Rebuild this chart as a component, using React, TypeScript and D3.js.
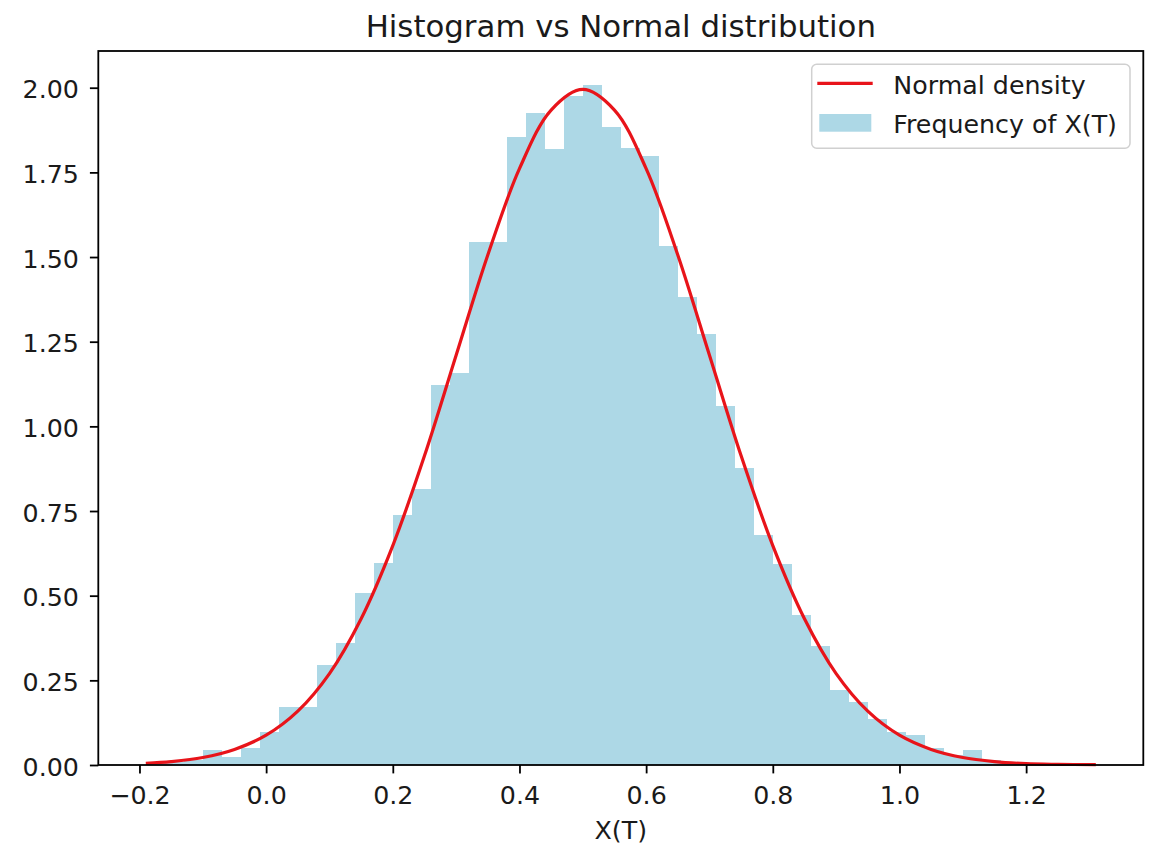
import React, { useEffect, useRef } from "react";
import * as d3 from "d3";

// histogram (density=True), 50 bins
const binStart = -0.19;
const binWidth = 0.03;
const densities = [
  0.007, 0.01, 0.015, 0.044, 0.025, 0.05, 0.098, 0.172, 0.172, 0.295,
  0.36, 0.509, 0.596, 0.739, 0.816, 1.122, 1.159, 1.543, 1.543, 1.854,
  1.926, 1.818, 1.975, 2.008, 1.884, 1.822, 1.798, 1.533, 1.381, 1.273,
  1.061, 0.877, 0.678, 0.595, 0.442, 0.351, 0.221, 0.187, 0.137, 0.098,
  0.088, 0.05, 0.03, 0.044, 0.015, 0.01, 0.005, 0.005, 0.0, 0.003,
];

const curveX = [
  -0.19, -0.15, -0.1, -0.05, 0.0, 0.05, 0.1, 0.15, 0.2, 0.25, 0.3, 0.35, 0.4,
  0.45, 0.5, 0.55, 0.6, 0.65, 0.7, 0.75, 0.8, 0.85, 0.9, 0.95, 1.0, 1.05, 1.1,
  1.15, 1.2, 1.25, 1.31,
];
const curveY = [
  0.005, 0.01, 0.022, 0.046, 0.088, 0.159, 0.27, 0.432, 0.648, 0.913, 1.21,
  1.506, 1.761, 1.934, 1.995, 1.934, 1.761, 1.506, 1.21, 0.913, 0.648, 0.432,
  0.27, 0.159, 0.088, 0.046, 0.022, 0.01, 0.004, 0.002, 0.001,
];

const xTicks = [-0.2, 0.0, 0.2, 0.4, 0.6, 0.8, 1.0, 1.2];
const yTicks = [0, 0.25, 0.5, 0.75, 1.0, 1.25, 1.5, 1.75, 2.0];

const title = "Histogram vs Normal distribution";
const xLabel = "X(T)";
const lineLabel = "Normal density";
const barLabel = "Frequency of X(T)";

const W = 1155;
const H = 848;
const left = 98.3;
const right = 1143.3;
const top = 51;
const bottom = 765;
const font = "'DejaVu Sans', sans-serif";
const fs = "25.3px";
const barColor = "#add8e6";
const lineColor = "#e8141a";

const App = () => {
  const ref = useRef(null);

  useEffect(() => {
    const svg = d3.select(ref.current);
    svg.selectAll("*").remove();

    const binEnd = binStart + binWidth * densities.length;
    const pad = (binEnd - binStart) * 0.05;
    const x = d3
      .scaleLinear()
      .domain([binStart - pad, binEnd + pad])
      .range([left, right]);
    const y = d3
      .scaleLinear()
      .domain([0, d3.max(densities) * 1.05])
      .range([bottom, top]);

    // bars
    svg
      .append("g")
      .selectAll("rect")
      .data(densities)
      .enter()
      .append("rect")
      .attr("x", (d, i) => x(binStart + i * binWidth))
      .attr("width", x(binStart + binWidth) - x(binStart) + 0.4)
      .attr("y", d => y(d))
      .attr("height", d => y(0) - y(d))
      .attr("fill", barColor)
      .attr("shape-rendering", "crispEdges");

    // curve
    const line = d3
      .line()
      .x(d => x(d[0]))
      .y(d => y(d[1]))
      .curve(d3.curveCatmullRom);
    svg
      .append("path")
      .datum(curveX.map((v, i) => [v, curveY[i]]))
      .attr("d", line)
      .attr("fill", "none")
      .attr("stroke", lineColor)
      .attr("stroke-width", 3.2);

    // frame
    svg
      .append("rect")
      .attr("x", left)
      .attr("y", top)
      .attr("width", right - left)
      .attr("height", bottom - top)
      .attr("fill", "none")
      .attr("stroke", "black")
      .attr("stroke-width", 1.8);

    // axes
    const xAxis = svg
      .append("g")
      .attr("transform", `translate(0,${bottom})`)
      .call(
        d3
          .axisBottom(x)
          .tickValues(xTicks)
          .tickSize(8.4)
          .tickPadding(13)
          .tickFormat(d => d3.format(".1f")(d).replace("-", "\u2212"))
      );
    xAxis.select(".domain").remove();
    xAxis.selectAll("line").attr("stroke-width", 1.8);
    xAxis
      .selectAll("text")
      .style("font-family", font)
      .style("font-size", fs)
      .attr("fill", "#1a1a1a");

    const yAxis = svg
      .append("g")
      .attr("transform", `translate(${left},0)`)
      .call(
        d3
          .axisLeft(y)
          .tickValues(yTicks)
          .tickSize(8.4)
          .tickPadding(11)
          .tickFormat(d3.format(".2f"))
      );
    yAxis.select(".domain").remove();
    yAxis.selectAll("line").attr("stroke-width", 1.8);
    yAxis
      .selectAll("text")
      .attr("dy", "0.4em")
      .style("font-family", font)
      .style("font-size", fs)
      .attr("fill", "#1a1a1a");

    // title + x label
    svg
      .append("text")
      .attr("x", (left + right) / 2)
      .attr("y", 37)
      .attr("text-anchor", "middle")
      .style("font-family", font)
      .style("font-size", "30.8px")
      .attr("fill", "#1a1a1a")
      .text(title);
    svg
      .append("text")
      .attr("x", (left + right) / 2)
      .attr("y", 839)
      .attr("text-anchor", "middle")
      .style("font-family", font)
      .style("font-size", fs)
      .attr("fill", "#1a1a1a")
      .text(xLabel);

    // legend
    const lg = svg.append("g");
    lg.append("rect")
      .attr("x", 811.7)
      .attr("y", 64.3)
      .attr("width", 318.3)
      .attr("height", 84)
      .attr("rx", 5)
      .attr("fill", "white")
      .attr("fill-opacity", 0.8)
      .attr("stroke", "#d0d0d0")
      .attr("stroke-width", 1.5);
    lg.append("line")
      .attr("x1", 817.3)
      .attr("x2", 872.7)
      .attr("y1", 83.3)
      .attr("y2", 83.3)
      .attr("stroke", lineColor)
      .attr("stroke-width", 3.2);
    lg.append("rect")
      .attr("x", 819.3)
      .attr("y", 114)
      .attr("width", 52)
      .attr("height", 17.7)
      .attr("fill", barColor);
    lg.selectAll("text.lab")
      .data([lineLabel, barLabel])
      .enter()
      .append("text")
      .attr("class", "lab")
      .attr("x", 893.3)
      .attr("y", (d, i) => 94 + i * 38.5)
      .style("font-family", font)
      .style("font-size", fs)
      .attr("fill", "#1a1a1a")
      .text(d => d);
  }, []);

  return (
    <svg
      ref={ref}
      width={W}
      height={H}
      style={{ position: "absolute", left: 0, top: 0, background: "white" }}
    />
  );
};

export default App;
